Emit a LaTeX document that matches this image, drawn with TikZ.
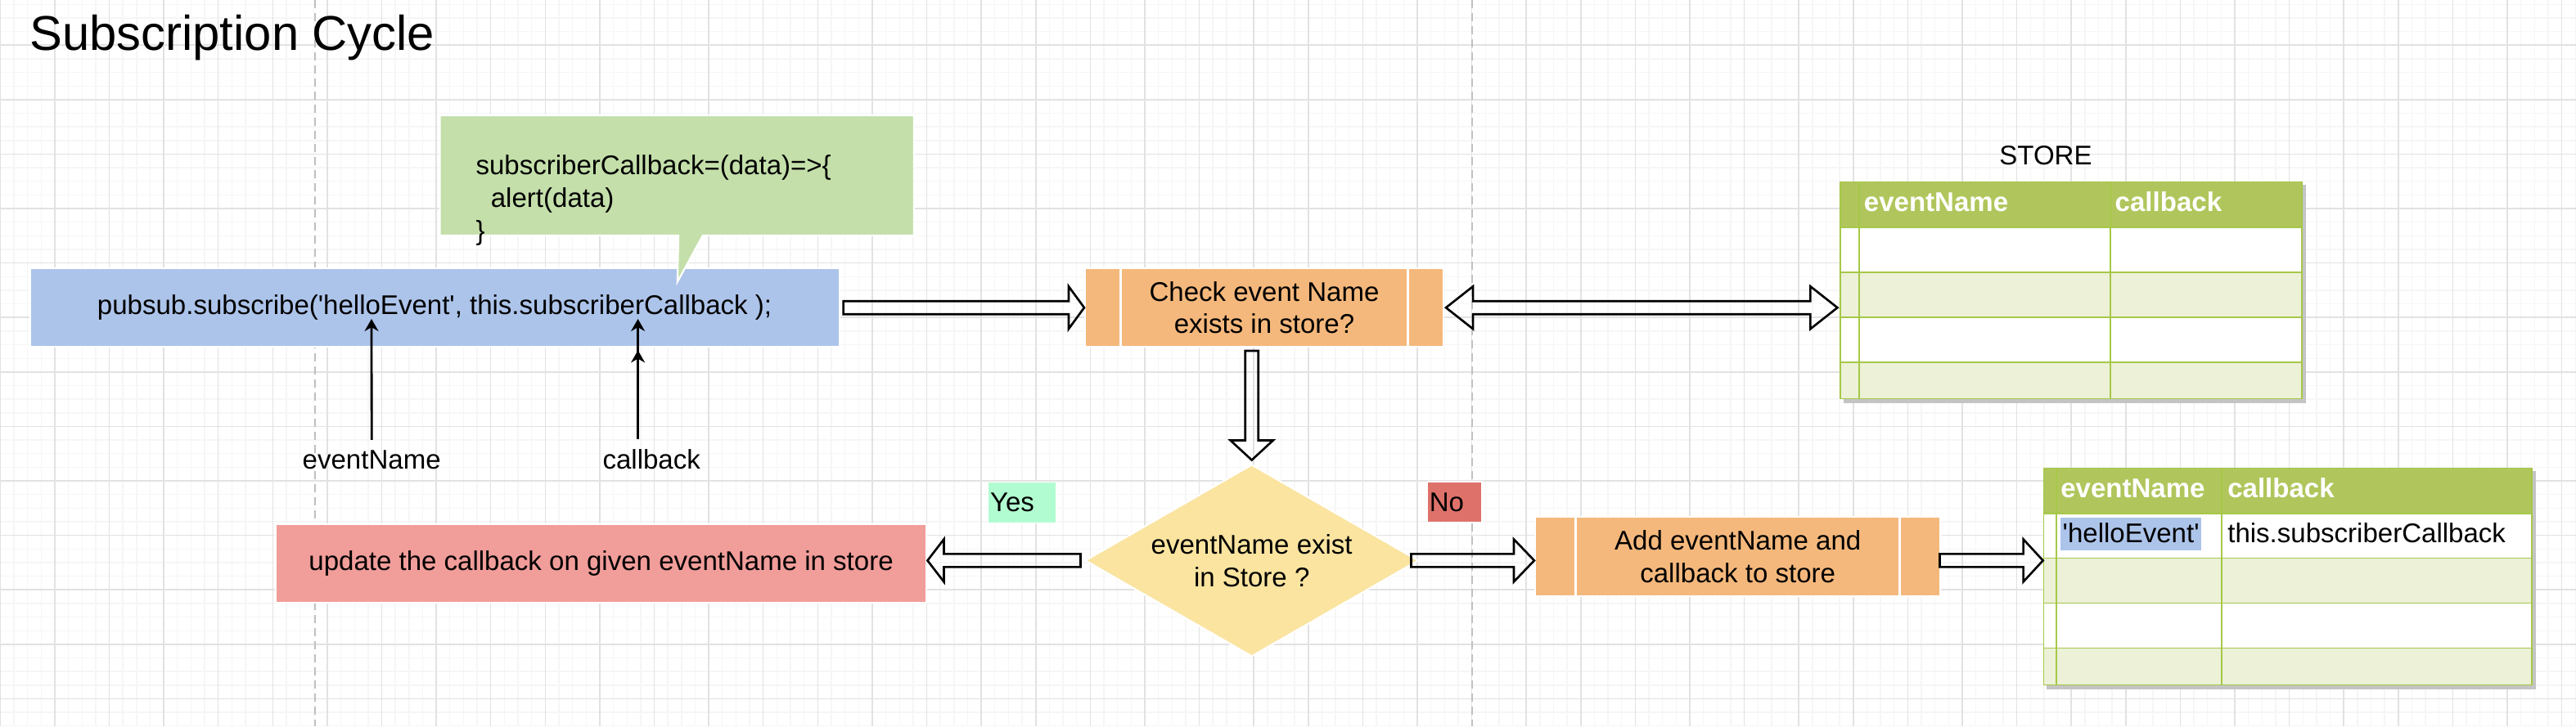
\documentclass[tikz,border=0pt]{standalone}
\usepackage{fontspec}
\setmainfont{Liberation Sans}[Ligatures=TeXOff]
\usetikzlibrary{arrows.meta,calc,shapes.geometric}

\definecolor{gridmaj}{RGB}{226,226,226}
\definecolor{gridmin}{RGB}{246,246,246}
\definecolor{dashgray}{RGB}{192,192,192}
\definecolor{codeblue}{RGB}{173,196,234}
\definecolor{notegreen}{RGB}{196,223,170}
\definecolor{procorange}{RGB}{245,184,124}
\definecolor{decyellow}{RGB}{250,228,160}
\definecolor{updpink}{RGB}{241,157,154}
\definecolor{yesgreen}{RGB}{178,252,210}
\definecolor{nored}{RGB}{222,114,106}
\definecolor{tblhead}{RGB}{176,198,92}
\definecolor{tblrow}{RGB}{236,241,215}
\definecolor{tblline}{RGB}{166,200,72}
\definecolor{shadowgray}{RGB}{196,196,196}

% hollow block arrow: [head length]{from}{to}
\newcommand{\blockarrow}[3][0.22cm]{%
  \coordinate (ba-s) at #2;
  \coordinate (ba-e) at #3;
  \coordinate (ba-b) at ($(ba-e)!#1!(ba-s)$);
  \draw[blockarr] ($(ba-s)!0.08cm!90:(ba-e)$) -- ($(ba-b)!0.08cm!90:(ba-e)$)
    -- ($(ba-b)!0.26cm!90:(ba-e)$) -- (ba-e) -- ($(ba-b)!0.26cm!-90:(ba-e)$)
    -- ($(ba-b)!0.08cm!-90:(ba-e)$) -- ($(ba-s)!0.08cm!-90:(ba-e)$) -- cycle;
}
% same, with a head at both ends
\newcommand{\dblockarrow}[3][0.33cm]{%
  \coordinate (ba-s) at #2;
  \coordinate (ba-e) at #3;
  \coordinate (ba-a) at ($(ba-s)!#1!(ba-e)$);
  \coordinate (ba-b) at ($(ba-e)!#1!(ba-s)$);
  \draw[blockarr] (ba-s) -- ($(ba-a)!0.26cm!90:(ba-e)$) -- ($(ba-a)!0.08cm!90:(ba-e)$)
    -- ($(ba-b)!0.08cm!90:(ba-e)$) -- ($(ba-b)!0.26cm!90:(ba-e)$) -- (ba-e)
    -- ($(ba-b)!0.26cm!-90:(ba-e)$) -- ($(ba-b)!0.08cm!-90:(ba-e)$)
    -- ($(ba-a)!0.08cm!-90:(ba-e)$) -- ($(ba-a)!0.26cm!-90:(ba-e)$) -- cycle;
}

\tikzset{
  every node/.style={font=\fontsize{9.4}{11.3}\selectfont},
  gridminor/.style={gridmin, line width=0.4pt},
  gridmajor/.style={gridmaj, line width=0.45pt},
  divider/.style={dashgray, line width=0.65pt, dash pattern=on 0.1cm off 0.06cm},
  shapebox/.style={draw=white, line width=0.6pt, inner sep=0, minimum height=0.956cm},
  process/.style={shapebox, fill=procorange, align=center, path picture={
      \draw[white, line width=0.8pt]
        ($(path picture bounding box.north west)!0.1!(path picture bounding box.north east)$) --
        ($(path picture bounding box.south west)!0.1!(path picture bounding box.south east)$)
        ($(path picture bounding box.north west)!0.9!(path picture bounding box.north east)$) --
        ($(path picture bounding box.south west)!0.9!(path picture bounding box.south east)$);}},
  dec/.style={diamond, aspect=1.735, draw=white, line width=0.6pt, fill=decyellow,
    inner sep=0, minimum width=4.074cm, minimum height=2.348cm, align=center},
  callout/.style={fill=notegreen, draw=white, line width=0.6pt},
  choice/.style={draw=white, line width=0.4pt, inner xsep=0.024cm, inner ysep=0,
    minimum height=0.5cm, text width=#1, align=left},
  lbl/.style={inner sep=0.12cm, anchor=base},
  ptr/.style={-{Stealth[length=0.15cm,width=0.17cm]}, line width=0.8pt},
  blockarr/.style={draw=black, line width=0.75pt, line join=miter},
  cell/.style={draw=tblline, line width=0.5pt, anchor=north west, inner sep=0},
  headtxt/.style={anchor=base west, inner sep=0, text=white,
    font=\fontsize{9.4}{11.3}\selectfont\bfseries},
  celltxt/.style={anchor=base west, inner sep=0}
}

\begin{document}
\begin{tikzpicture}
\useasboundingbox (0,0) rectangle (31.48,-8.88);

% background grid
\begin{scope}
\clip (0,0) rectangle (31.48,-8.88);
\foreach \i in {0,...,189} \draw[gridminor] ({0.003+\i*0.1665},0) -- ++(0,-8.88);
\foreach \j in {0,...,53} \draw[gridminor] (0,{-0.053-\j*0.1665}) -- ++(31.48,0);
\foreach \i in {0,...,47} \draw[gridmajor] ({0.003+\i*0.666},0) -- ++(0,-8.88);
\foreach \j in {0,...,12} \draw[gridmajor] (0,{-0.5525-\j*0.666}) -- ++(31.48,0);
\end{scope}

\draw[divider] (3.85,0) -- (3.85,-8.88);
\draw[divider] (17.99,0) -- (17.99,-8.88);

\node[anchor=base west, inner sep=0, font=\fontsize{17}{20}\selectfont] (title) at (0.358,-0.616) {Subscription Cycle};
\node[anchor=base, inner sep=0] (storelbl) at (25.0,-2.016) {STORE};

% subscribe call and its callback note
\node[shapebox, fill=codeblue, minimum width=9.89cm] (pubsub) at (5.311,-3.762) {pubsub.subscribe('helloEvent', this.subscriberCallback );};
\node[inner sep=0, minimum width=5.78cm, minimum height=1.456cm, anchor=north west] (note) at (5.376,-1.41) {};
\draw[callout] (note.north west) -- (note.north east) -- (note.south east)
  -- ($(note.south west)+(3.212,0)$) -- ($(note.south west)+(2.902,-0.568)$)
  -- ($(note.south west)+(2.916,0)$) -- (note.south west) -- cycle;
\node[anchor=west, align=left, inner sep=0] (notetxt) at (5.808,-2.45) {subscriberCallback=(data)=>\{\\\hspace*{0.556em}alert(data)\\\}};

% flow
\node[process, minimum width=4.38cm] (check) at (15.45,-3.762) {Check event Name\\exists in store?};
\node[dec] (dec) at (15.297,-6.854) {eventName exist\\in Store ?};
\node[shapebox, fill=updpink, minimum width=7.956cm, minimum height=0.96cm] (upd) at (7.346,-6.886) {update the callback on given eventName in store};
\node[process, minimum width=4.954cm, minimum height=0.966cm] (add) at (21.237,-6.807) {Add eventName and\\callback to store};
\node[choice=0.786cm, fill=yesgreen] (yes) at (12.493,-6.142) {Yes};
\node[choice=0.618cm, fill=nored] (no) at (17.777,-6.14) {No};

% store table (empty)
\node[inner sep=0, minimum width=5.634cm, minimum height=2.65cm, anchor=north west] (store) at (22.484,-2.216) {};
\fill[shadowgray] ($(store.north west)+(0.045,-0.045)$) rectangle ($(store.south east)+(0.045,-0.045)$);
\foreach \rw/\ry/\rh/\rc in {0/-2.216/0.558/tblhead, 1/-2.774/0.55/white, 2/-3.324/0.55/tblrow, 3/-3.874/0.546/white, 4/-4.42/0.446/tblrow}
  \foreach \cl/\cx/\cw in {0/22.484/0.23, 1/22.714/3.064, 2/25.778/2.34}
    \node[cell, fill=\rc, minimum width=\cw cm, minimum height=\rh cm] (sa-\rw-\cl) at (\cx,\ry) {};
\node[headtxt] (sa-h1) at (22.772,-2.584) {eventName};
\node[headtxt] (sa-h2) at (25.84,-2.584) {callback};

% store table after the add
\node[inner sep=0, minimum width=5.962cm, minimum height=2.65cm, anchor=north west] (store2) at (24.966,-5.716) {};
\fill[shadowgray] ($(store2.north west)+(0.045,-0.045)$) rectangle ($(store2.south east)+(0.045,-0.045)$);
\foreach \rw/\ry/\rh/\rc in {0/-5.716/0.558/tblhead, 1/-6.274/0.542/white, 2/-6.816/0.55/tblrow, 3/-7.366/0.55/white, 4/-7.916/0.45/tblrow}
  \foreach \cl/\cx/\cw in {0/24.966/0.158, 1/25.124/2.018, 2/27.142/3.786}
    \node[cell, fill=\rc, minimum width=\cw cm, minimum height=\rh cm] (sb-\rw-\cl) at (\cx,\ry) {};
\node[headtxt] (sb-h1) at (25.176,-6.084) {eventName};
\node[headtxt] (sb-h2) at (27.216,-6.084) {callback};
\node[celltxt, fill=codeblue, inner xsep=0.024cm, text height=0.3cm, text depth=0.092cm] (sb-r1) at (25.176,-6.634) {'helloEvent'};
\node[celltxt] (sb-r2) at (27.216,-6.634) {this.subscriberCallback};

% argument labels
\coordinate (evtip) at (4.54,-3.9);
\coordinate (cbtip) at (7.796,-3.9);
\coordinate (cbmid) at (7.796,-4.284);
\node[lbl] (evlbl) at (4.542,-5.734) {eventName};
\node[lbl] (cblbl) at (7.962,-5.734) {callback};
\draw[ptr] (evlbl.north) -- (evtip);
\draw[ptr] (cblbl.north -| cbtip) -- (cbtip);
\draw[ptr] (cblbl.north -| cbtip) -- (cbmid);

% block arrows
\blockarrow[0.19cm]{($(pubsub.east)+(0.04,0)$)}{(check.west)}
\dblockarrow[0.33cm]{($(check.east)+(0.02,0)$)}{($(check.east -| store.west)+(-0.03,0)$)}
\blockarrow[0.24cm]{($(check.south -| dec.north)+(0,-0.04)$)}{($(dec.north)+(0,0.044)$)}
\blockarrow[0.2cm]{($(dec.west)+(-0.044,0)$)}{(dec.west -| upd.east)}
\blockarrow[0.25cm]{($(dec.east)+(-0.1,0)$)}{(dec.east -| add.west)}
\blockarrow[0.24cm]{($(dec.east -| add.east)+(-0.02,0)$)}{(dec.east -| store2.west)}
\end{tikzpicture}
\end{document}
